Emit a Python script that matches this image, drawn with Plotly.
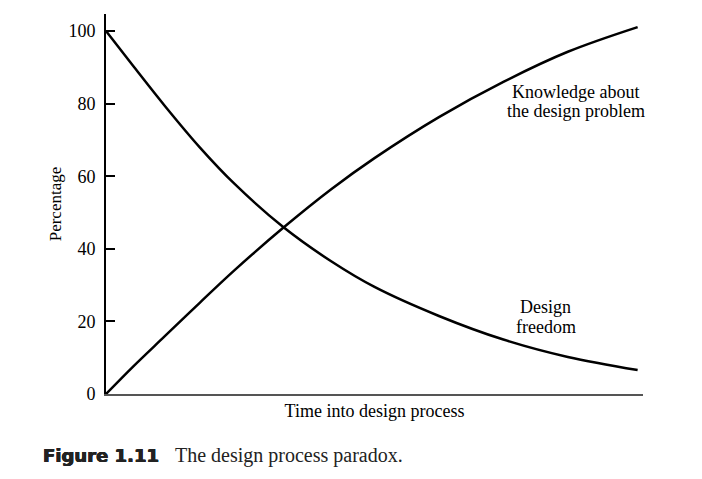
import plotly.graph_objects as go

# Data
time_pts = [0, 5, 11, 17.5, 24, 33, 42, 50, 62, 74, 86, 99]
design_freedom = [100, 90.5, 79.3, 67.9, 57.8, 46, 36.5, 29.5, 21.5, 15, 10.2, 6.6]
knowledge = [0, 7.5, 16.0, 25.2, 34.2, 45.8, 56.5, 65, 76.3, 86, 94.3, 101.1]
y_ticks = [0, 20, 40, 60, 80, 100]

SERIF = "Liberation Serif, Times New Roman, serif"

fig = go.Figure()
fig.add_trace(go.Scatter(x=time_pts, y=design_freedom, mode="lines",
                         line=dict(color="black", width=2.5, shape="spline", smoothing=1.0),
                         name="Design freedom", showlegend=False, hoverinfo="skip"))
fig.add_trace(go.Scatter(x=time_pts, y=knowledge, mode="lines",
                         line=dict(color="black", width=2.5, shape="spline", smoothing=1.0),
                         name="Knowledge", showlegend=False, hoverinfo="skip"))

ann_font = dict(family=SERIF, size=18, color="black")
fig.add_annotation(x=87.5, y=83.3, text="Knowledge about", showarrow=False, font=ann_font)
fig.add_annotation(x=87.5, y=78.0, text="the design problem", showarrow=False, font=ann_font)
fig.add_annotation(x=81.9, y=24.0, text="Design", showarrow=False, font=ann_font)
fig.add_annotation(x=81.9, y=18.5, text="freedom", showarrow=False, font=ann_font)

# Caption
fig.add_annotation(xref="paper", yref="paper", x=-0.121, y=-0.163, xanchor="left", yanchor="middle",
                   text="<b>Figure 1.11</b>", showarrow=False,
                   font=dict(family="DejaVu Sans", size=18, color="#222",
                             shadow="0.5px 0 0 #222, -0.4px 0 0 #222, 0 0.4px 0 #222"))
fig.add_annotation(xref="paper", yref="paper", x=0.124, y=-0.163, xanchor="left", yanchor="middle",
                   text="The design process paradox.", showarrow=False,
                   font=dict(family=SERIF, size=20, color="#222"))

fig.update_layout(
    width=702, height=479,
    margin=dict(l=106, r=59, t=14, b=85),
    paper_bgcolor="white", plot_bgcolor="white",
    font=dict(family=SERIF, size=18, color="black"),
    xaxis=dict(range=[0, 100], showgrid=False, zeroline=False, showticklabels=False,
               ticks="", showline=True, linecolor="#555", linewidth=2,
               title=dict(text="Time into design process", font=dict(family=SERIF, size=18),
                          standoff=9)),
    yaxis=dict(range=[0, 104.7], showgrid=False, zeroline=False,
               tickvals=y_ticks, ticks="inside", ticklen=9, tickwidth=1.5, tickcolor="black",
               showline=True, linecolor="black", linewidth=2, ticklabelstandoff=5,
               tickfont=dict(family=SERIF, size=18),
               title=dict(text="Percentage", font=dict(family=SERIF, size=17), standoff=2)),
)

fig.write_html("out.html")
